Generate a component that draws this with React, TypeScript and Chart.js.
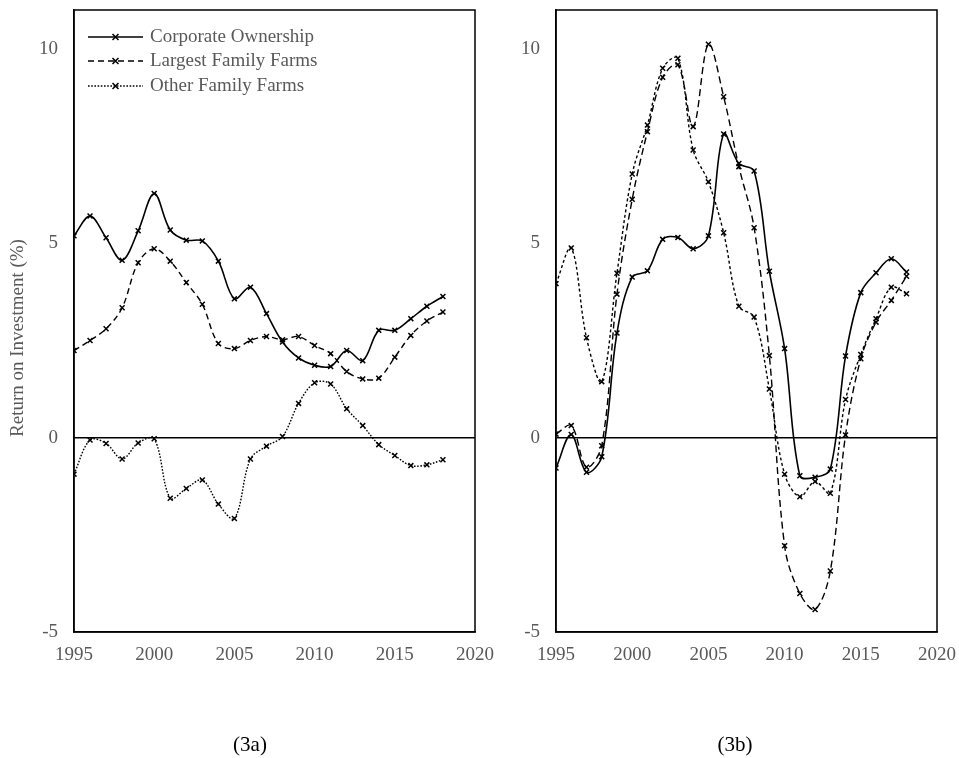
import React, { useEffect, useRef } from "react";
import { Chart, registerables } from "chart.js";

Chart.register(...registerables);

const years = [1995, 1996, 1997, 1998, 1999, 2000, 2001, 2002, 2003, 2004, 2005, 2006, 2007, 2008, 2009, 2010, 2011, 2012, 2013, 2014, 2015, 2016, 2017, 2018];

const seriesLabels = ["Corporate Ownership", "Largest Family Farms", "Other Family Farms"];

// Panel (3a)
const corpA = [5.19, 5.70, 5.14, 4.56, 5.32, 6.28, 5.34, 5.08, 5.06, 4.54, 3.57, 3.87, 3.19, 2.46, 2.05, 1.86, 1.83, 2.24, 1.98, 2.76, 2.76, 3.06, 3.38, 3.63];
const largeA = [2.24, 2.50, 2.80, 3.34, 4.50, 4.86, 4.54, 3.99, 3.43, 2.42, 2.29, 2.50, 2.60, 2.52, 2.60, 2.37, 2.16, 1.70, 1.51, 1.53, 2.07, 2.63, 3.00, 3.23];
const otherA = [-0.94, -0.06, -0.15, -0.55, -0.14, -0.03, -1.56, -1.31, -1.09, -1.71, -2.08, -0.55, -0.22, 0.03, 0.88, 1.41, 1.38, 0.74, 0.31, -0.18, -0.46, -0.72, -0.70, -0.57];

// Panel (3b)
const corpB = [-0.78, 0.08, -0.89, -0.49, 2.69, 4.13, 4.29, 5.10, 5.15, 4.86, 5.19, 7.81, 7.05, 6.86, 4.28, 2.29, -0.98, -1.02, -0.81, 2.10, 3.73, 4.24, 4.60, 4.26];
const largeB = [0.09, 0.31, -0.76, -0.21, 3.69, 6.13, 7.87, 9.27, 9.59, 8.00, 10.12, 8.77, 6.97, 5.40, 2.11, -2.78, -4.01, -4.42, -3.43, 0.07, 2.03, 2.97, 3.53, 4.15];
const otherB = [3.96, 4.88, 2.57, 1.44, 4.23, 6.78, 8.04, 9.50, 9.76, 7.40, 6.58, 5.27, 3.38, 3.10, 1.25, -0.94, -1.52, -1.13, -1.43, 0.98, 2.14, 3.06, 3.87, 3.70];

const xTicks = [1995, 2000, 2005, 2010, 2015, 2020];
const yTicks = [-5, 0, 5, 10];
const yTitle = "Return on Investment (%)";

const FONT = "'Liberation Serif', 'Times New Roman', serif";
const GRAY = "#595959";

const dashes: number[][] = [[], [6, 4], [1.6, 1.6]];
const dashesB: number[][] = [[], [7, 4], [3, 2.5]];

function toPoints(vals: number[]) {
  return years.map((y, i) => ({ x: y, y: vals[i] }));
}

const frameLegendPlugin = {
  id: "frameLegend",
  afterDatasetsDraw(chart: any, _args: any, opts: any) {
    const { ctx, chartArea } = chart;
    ctx.save();
    ctx.strokeStyle = "#000";
    ctx.lineWidth = 1.5;
    ctx.setLineDash([]);
    ctx.strokeRect(chartArea.left, chartArea.top, chartArea.right - chartArea.left, chartArea.bottom - chartArea.top);
    if (opts && opts.show) {
      const x0 = chartArea.left + 14;
      const x1 = chartArea.left + 69;
      const tx = chartArea.left + 76;
      const rows = [27, 51, 76];
      chart.data.datasets.forEach((ds: any, i: number) => {
        const yy = chartArea.top + rows[i];
        ctx.strokeStyle = "#000";
        ctx.lineWidth = ds.borderWidth;
        ctx.setLineDash(ds.borderDash || []);
        ctx.beginPath();
        ctx.moveTo(x0, yy);
        ctx.lineTo(x1, yy);
        ctx.stroke();
        ctx.setLineDash([]);
        const mx = (x0 + x1) / 2;
        const r = 3;
        ctx.lineWidth = 1.5;
        ctx.beginPath();
        ctx.moveTo(mx - r, yy - r);
        ctx.lineTo(mx + r, yy + r);
        ctx.moveTo(mx + r, yy - r);
        ctx.lineTo(mx - r, yy + r);
        ctx.stroke();
        ctx.fillStyle = GRAY;
        ctx.font = `19px ${FONT}`;
        ctx.textBaseline = "middle";
        ctx.textAlign = "left";
        ctx.fillText(ds.label, tx, yy);
      });
    }
    if (opts && opts.title) {
      ctx.translate(18, 338);
      ctx.rotate(-Math.PI / 2);
      ctx.fillStyle = GRAY;
      ctx.font = `19px ${FONT}`;
      ctx.textAlign = "center";
      ctx.textBaseline = "middle";
      ctx.fillText(opts.title, 0, 0);
    }
    ctx.restore();
  },
};

function Panel(props: {
  corp: number[];
  large: number[];
  other: number[];
  showLegend: boolean;
  title: string;
  width: number;
  padRight: number;
  yWidth: number;
  dash: number[][];
}) {
  const ref = useRef<HTMLCanvasElement | null>(null);
  useEffect(() => {
    if (!ref.current) return;
    const vals = [props.corp, props.large, props.other];
    const chart = new Chart(ref.current, {
      type: "line",
      data: {
        datasets: vals.map((v, i) => ({
          label: seriesLabels[i],
          data: toPoints(v),
          borderColor: "#000",
          backgroundColor: "#000",
          borderWidth: i === 0 ? 1.6 : 1.4,
          borderDash: props.dash[i],
          tension: 0.35,
          pointStyle: "crossRot",
          pointRadius: 3.5,
          pointBorderWidth: 1.5,
          pointBorderColor: "#000",
          pointHoverRadius: 3.5,
          fill: false,
        })),
      },
      options: {
        animation: false,
        responsive: false,
        maintainAspectRatio: false,
        events: [],
        layout: { padding: { top: 10, right: props.padRight, left: 0, bottom: 0 } },
        plugins: {
          legend: { display: false },
          tooltip: { enabled: false },
          frameLegend: { show: props.showLegend, title: props.title },
        } as any,
        scales: {
          x: {
            type: "linear",
            min: 1995,
            max: 2020,
            afterFit: (s: any) => {
              s.height = 126;
              s.paddingLeft = 0;
              s.paddingRight = 0;
            },
            afterBuildTicks: (s: any) => {
              s.ticks = xTicks.map((v) => ({ value: v }));
            },
            ticks: {
              color: GRAY,
              font: { family: FONT, size: 19 },
              padding: 12,
              maxRotation: 0,
              autoSkip: false,
              callback: (v: any) => String(v),
            },
            grid: { display: false, drawTicks: false },
            border: { display: true, color: "#000", width: 1.5 },
          },
          y: {
            type: "linear",
            min: -5,
            max: 11,
            afterFit: (s: any) => {
              s.width = props.yWidth;
              s.paddingTop = 0;
              s.paddingBottom = 0;
            },
            afterBuildTicks: (s: any) => {
              s.ticks = yTicks.map((v) => ({ value: v }));
            },
            ticks: {
              color: GRAY,
              font: { family: FONT, size: 19 },
              padding: 16,
              callback: (v: any) => String(v),
            },
            grid: {
              drawTicks: false,
              color: (c: any) => (c.tick && c.tick.value === 0 ? "#000" : "rgba(0,0,0,0)"),
              lineWidth: 1.5,
            },
            border: { display: true, color: "#000", width: 1.5 },
          },
        },
      },
      plugins: [frameLegendPlugin],
    });
    return () => chart.destroy();
  }, []);
  return <canvas ref={ref} width={props.width} height={758} style={{ display: "block", width: props.width, height: 758 }} />;
}

export default function App() {
  return (
    <div style={{ position: "absolute", left: 0, top: 0, width: 959, height: 758, background: "#fff", overflow: "hidden" }}>
      <div style={{ position: "absolute", left: 0, top: 0 }}>
        <Panel corp={corpA} large={largeA} other={otherA} showLegend={true} title={yTitle} width={505} padRight={30} yWidth={74} dash={dashes} />
      </div>
      <div style={{ position: "absolute", left: 470, top: 0 }}>
        <Panel corp={corpB} large={largeB} other={otherB} showLegend={false} title={""} width={489} padRight={22} yWidth={86} dash={dashesB} />
      </div>
      <div style={{ position: "absolute", left: 200, width: 100, top: 732, textAlign: "center", fontFamily: FONT, fontSize: 21, color: "#000" }}>(3a)</div>
      <div style={{ position: "absolute", left: 685, width: 100, top: 732, textAlign: "center", fontFamily: FONT, fontSize: 21, color: "#000" }}>(3b)</div>
    </div>
  );
}
